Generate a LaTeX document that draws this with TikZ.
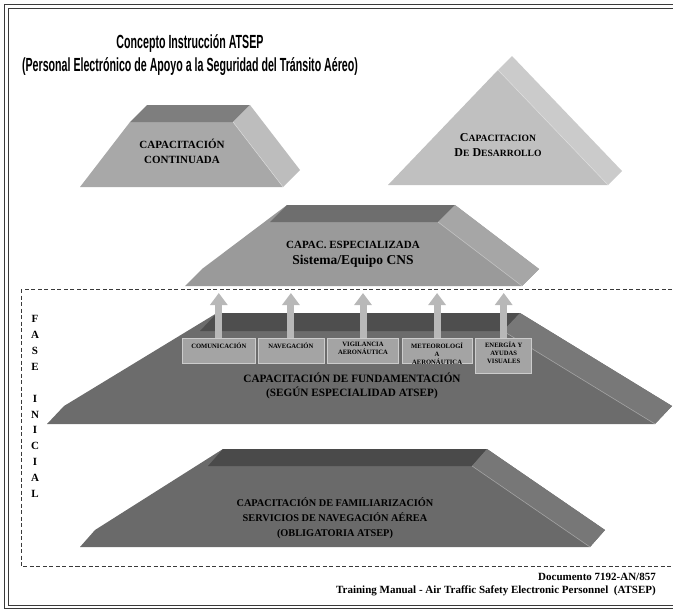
\documentclass[tikz,border=0pt]{standalone}
\usepackage{fontspec}
\setmainfont{Liberation Serif}
\newfontfamily\titulofont[FakeStretch=0.56]{Liberation Sans}
\usetikzlibrary{positioning,arrows.meta}

\definecolor{marco}{HTML}{3A3A3A}
\definecolor{contfrente}{HTML}{A8A8A8}
\definecolor{contarriba}{HTML}{7E7E7E}
\definecolor{contlado}{HTML}{BDBDBD}
\definecolor{desfrente}{HTML}{C0C0C0}
\definecolor{deslado}{HTML}{CBCBCB}
\definecolor{espfrente}{HTML}{9A9A9A}
\definecolor{esparriba}{HTML}{6E6E6E}
\definecolor{esplado}{HTML}{A6A6A6}
\definecolor{funfrente}{HTML}{6C6C6C}
\definecolor{funarriba}{HTML}{4E4E4E}
\definecolor{funlado}{HTML}{787878}
\definecolor{famfrente}{HTML}{6A6A6A}
\definecolor{famarriba}{HTML}{4A4A4A}
\definecolor{famlado}{HTML}{777777}
\definecolor{cajongris}{HTML}{A4A4A4}
\definecolor{flechagris}{HTML}{B8B8B8}

\begin{document}
\begin{tikzpicture}[x=1pt,y=-1pt,
    rotulo/.style={font=\bfseries, align=center, inner sep=0pt},
    cajon/.style={draw=gray!40, fill=cajongris, line width=0.6pt, minimum height=25pt, inner sep=0pt, anchor=north west},
    cajontxt/.style={font=\fontsize{6.6}{8}\selectfont\bfseries, align=center, inner sep=0pt},
    flecha/.style={draw=flechagris, line width=7pt, -{Triangle[width=17pt,length=12pt]}},
    brillo/.style={draw=white, opacity=0.35, line width=0.6pt}]
  \useasboundingbox (0,0) rectangle (673,613);
  \clip (0,0) rectangle (673,613);

  % marco doble
  \draw[marco, line width=1.7pt] (4.5,4.5) rectangle (700,608.5);
  \draw[marco, line width=0.7pt] (8,8) rectangle (700,605.5);

  \node[font=\titulofont\bfseries\fontsize{19}{23}\selectfont, align=center] (titulo) at (190,55)
    {Concepto Instrucción ATSEP\\(Personal Electrónico de Apoyo a la Seguridad del Tránsito Aéreo)};

  % capacitacion continuada
  \fill[contfrente] (130,122) -- (233,122) -- (283,187) -- (80,187) -- cycle;
  \fill[contarriba] (130,122) -- (147,105) -- (250,105) -- (233,122) -- cycle;
  \fill[contlado] (233,122) -- (250,105) -- (300,170) -- (283,187) -- cycle;
  \draw[brillo] (233,122) -- (283,187);
  \node[rotulo, font=\fontsize{11}{15}\selectfont\bfseries] (continuada) at (182,151)
    {CAPACITACIÓN\\CONTINUADA};

  % capacitacion de desarrollo
  \fill[deslado] (498,70) -- (512,56) -- (622,171) -- (608,185) -- cycle;
  \fill[desfrente] (388,185) -- (498,70) -- (608,185) -- cycle;
  \draw[brillo] (498,70) -- (608,185);
  \node[rotulo, font=\fontsize{12}{15}\selectfont\bfseries] (desarrollo) at (498,145)
    {C{\fontsize{9.6}{10}\selectfont APACITACION}\\D{\fontsize{9.6}{10}\selectfont E} D{\fontsize{9.6}{10}\selectfont ESARROLLO}};

  % capac. especializada
  \fill[espfrente] (185,286) -- (202,269) -- (287,205) -- (455,205) -- (539,269) -- (522,286) -- cycle;
  \fill[esparriba] (270,222) -- (287,205) -- (455,205) -- (438,222) -- cycle;
  \fill[esplado] (438,222) -- (455,205) -- (539,269) -- (522,286) -- cycle;
  \draw[brillo] (438,222) -- (522,286);
  \node[rotulo, font=\fontsize{11}{16}\selectfont\bfseries] (especializada) at (353,254)
    {CAPAC. ESPECIALIZADA\\{\fontsize{13.5}{14}\selectfont Sistema/Equipo CNS}};

  % fase inicial
  \draw[marco, line width=0.7pt, dash pattern=on 4pt off 2.5pt] (21,289) rectangle (700,566);
  \foreach \letra [count=\i] in {F,A,S,E,{},I,N,I,C,I,A,L}
    \node[rotulo, font=\fontsize{11}{13}\selectfont\bfseries] at (35,{319+(\i-1)*15.9}) {\letra};

  % capacitacion de fundamentacion
  \fill[funfrente] (47,424) -- (64,406) -- (217,313) -- (520,313) -- (672,406) -- (655,424) -- cycle;
  \fill[funarriba] (200,331) -- (217,313) -- (520,313) -- (503,331) -- cycle;
  \fill[funlado] (503,331) -- (520,313) -- (672,406) -- (655,424) -- cycle;
  \draw[brillo] (503,331) -- (655,424);
  \node[rotulo, font=\fontsize{11.2}{13.5}\selectfont\bfseries] (fundamentacion) at (352,386)
    {CAPACITACIÓN DE FUNDAMENTACIÓN\\(SEGÚN ESPECIALIDAD ATSEP)};

  % especialidades
  \node[cajon, minimum width=73pt] (com) at (182,338) {};
  \node[cajon, minimum width=66pt, right=2pt of com.north east, anchor=north west] (nav) {};
  \node[cajon, minimum width=71pt, right=3pt of nav.north east, anchor=north west] (vig) {};
  \node[cajon, minimum width=70pt, right=3pt of vig.north east, anchor=north west] (met) {};
  \node[cajon, minimum width=56pt, minimum height=35pt, right=3pt of met.north east, anchor=north west] (ene) {};
  \node[cajontxt, below=5pt of com.north] {COMUNICACIÓN};
  \node[cajontxt, below=5pt of nav.north] {NAVEGACIÓN};
  \node[cajontxt, below=4pt of vig.north] {VIGILANCIA\\AERONÁUTICA};
  \begin{scope}
    \clip (met.south west) rectangle (met.north east);
    \node[cajontxt, below=4.5pt of met.north] {METEOROLOGÍ\\A\\AERONÁUTICA};
  \end{scope}
  \node[cajontxt, below=4pt of ene.north] {ENERGÍA Y\\AYUDAS\\VISUALES};

  \coordinate (tope) at (0,293);
  \foreach \caja in {com,nav,vig,met,ene}
    \draw[flecha] (\caja.north) -- (\caja.north |- tope);

  % capacitacion de familiarizacion
  \fill[famfrente] (80,547) -- (95,530) -- (223,449) -- (487,449) -- (605,530) -- (590,547) -- cycle;
  \fill[famarriba] (208,466) -- (223,449) -- (487,449) -- (472,466) -- cycle;
  \fill[famlado] (472,466) -- (487,449) -- (605,530) -- (590,547) -- cycle;
  \draw[brillo] (472,466) -- (590,547);
  \node[rotulo, font=\fontsize{10.3}{15}\selectfont\bfseries] (familiarizacion) at (335,518)
    {CAPACITACIÓN DE FAMILIARIZACIÓN\\SERVICIOS DE NAVEGACIÓN AÉREA\\(OBLIGATORIA ATSEP)};

  \node[rotulo, font=\fontsize{11}{12}\selectfont\bfseries, anchor=east] (documento) at (656,577)
    {Documento 7192-AN/857};
  \node[rotulo, font=\fontsize{11}{12}\selectfont\bfseries, anchor=east] (manual) at (656,591)
    {Training Manual - Air Traffic Safety Electronic Personnel\ \ (ATSEP)};
\end{tikzpicture}
\end{document}
